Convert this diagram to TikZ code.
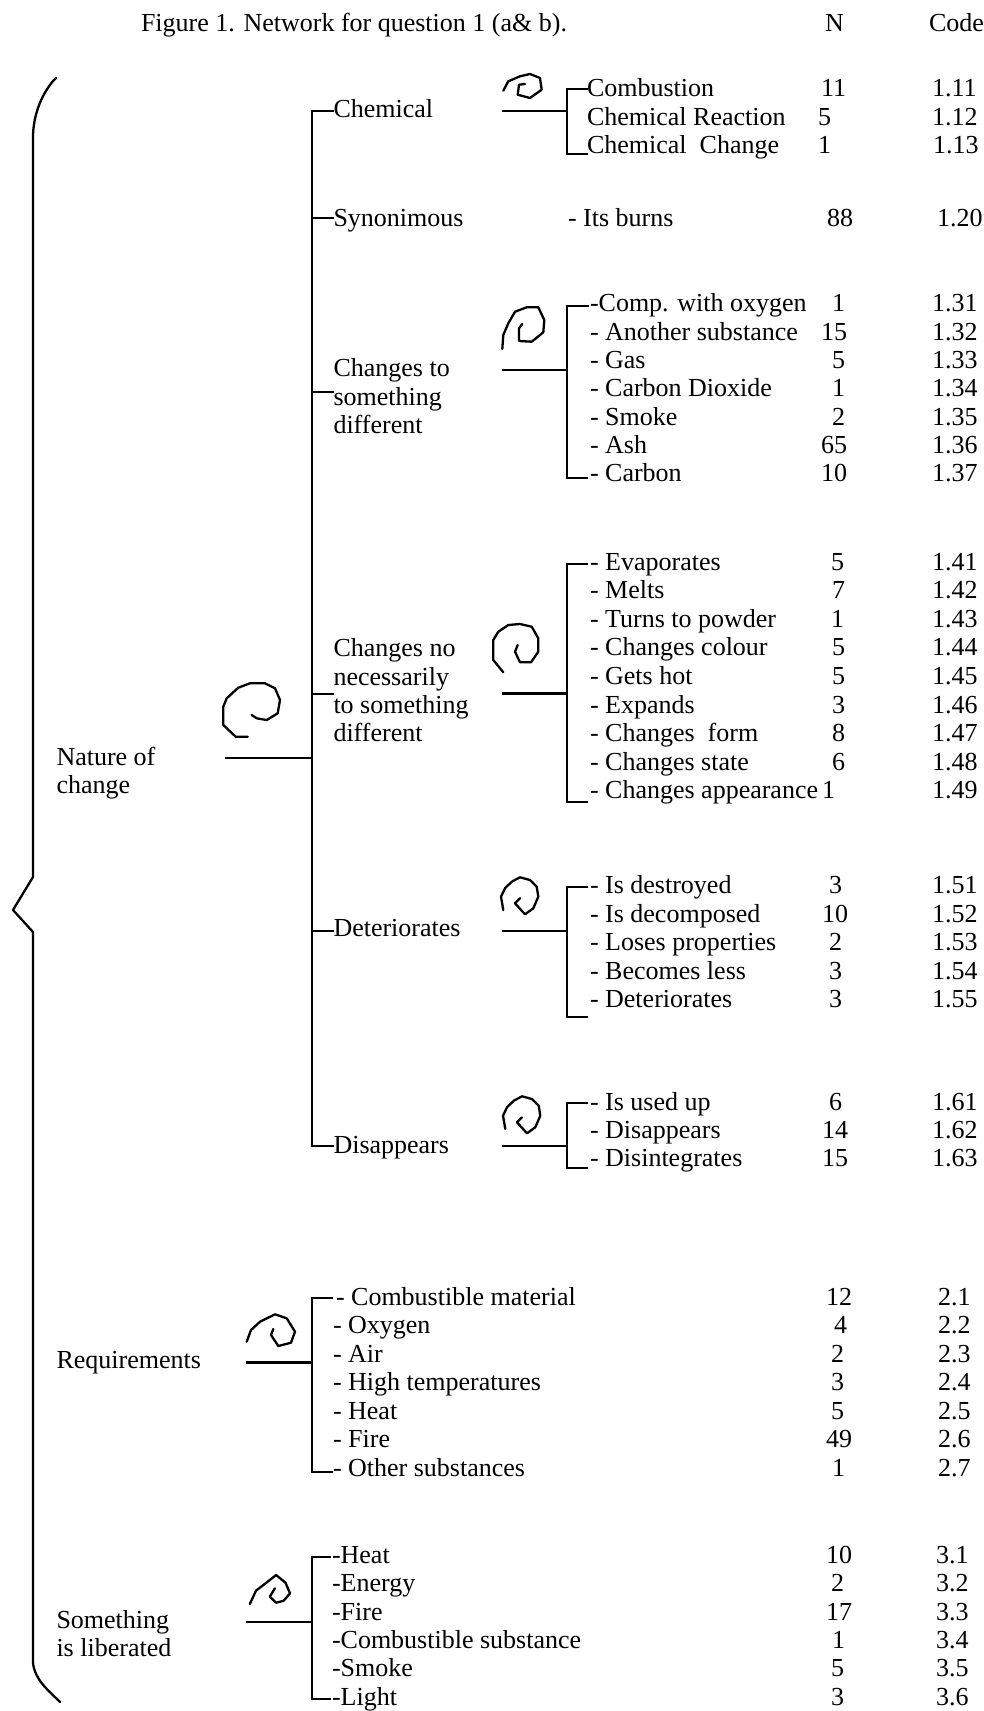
\documentclass[tikz,border=0pt]{standalone}
\usepackage{fontspec}
\setmainfont{Liberation Serif}
\newcommand\netfont{\fontsize{26}{30}\selectfont}
\newcommand\netrow[8]{%
  \node[txt] (#1) at (#3,#2) {#4};
  \node[txt] (#1n) at (#5,#2) {#6};
  \node[txt] (#1c) at (#7,#2) {#8};}
\begin{document}
\begin{tikzpicture}[x=1pt,y=-1pt,
  txt/.style={anchor=base west, inner sep=0pt, outer sep=0pt, font=\netfont},
  net/.style={line width=2.3pt, line join=miter},
  curl/.style={line width=2.3pt, line join=round, line cap=round}]
\useasboundingbox (0,0) rectangle (984,1711);

% ---------- title ----------
\node[txt] (title) at (141,31.5) {Figure 1. Network for question 1 (a\& b).};
\node[txt] (hN) at (825,31.5) {N};
\node[txt] (hCode) at (929,31.5) {Code};

% ---------- big brace ----------
\draw[curl] (56,78) -- (53,81) .. controls (44,92) and (34,110) .. (33,135) -- (33,877) -- (13,910) -- (33,932) -- (33,1663) .. controls (35,1680) and (48,1690) .. (60,1702);

% ---------- level 1 labels ----------
\node[txt] (nat1) at (56.5,765) {Nature of};
\node[txt] (nat2) at (56.5,793.3) {change};
\node[txt] (req) at (56.5,1368.3) {Requirements};
\node[txt] (lib1) at (56.5,1628.3) {Something};
\node[txt] (lib2) at (56.5,1656.7) {is liberated};

% ---------- level 2 labels ----------
\node[txt] (chem) at (333.5,117.3) {Chemical};
\node[txt] (syn) at (333.5,226) {Synonimous};
\node[txt] (cto1) at (333.5,376.7) {Changes to};
\node[txt] (cto2) at (333.5,405) {something};
\node[txt] (cto3) at (333.5,433.3) {different};
\node[txt] (cno1) at (333.5,656.7) {Changes no};
\node[txt] (cno2) at (333.5,685) {necessarily};
\node[txt] (cno3) at (333.5,713.3) {to something};
\node[txt] (cno4) at (333.5,741.7) {different};
\node[txt] (det) at (333.5,936.7) {Deteriorates};
\node[txt] (disap) at (333.5,1153.3) {Disappears};

% ---------- trunk of "Nature of change" ----------
\coordinate (trTop) at (312,111);
\coordinate (trBot) at (312,1146);
\coordinate (synJ) at (312,218);
\coordinate (ctoJ) at (312,392);
\coordinate (cnoJ) at (312,694);
\coordinate (detJ) at (312,931);
\coordinate (natL) at (225,758);
\draw[net] (trTop -| chem.west) -- (trTop) -- (trBot) -- (trBot -| disap.west);
\draw[net] (synJ) -- (synJ -| syn.west);
\draw[net] (ctoJ) -- (ctoJ -| cto2.west);
\draw[net] (cnoJ) -- (cnoJ -| cno2.west);
\draw[net] (detJ) -- (detJ -| det.west);
\draw[net] (natL) -- (natL -| trTop);

% ---------- Chemical ----------
\coordinate (chemL) at (502,111);
\coordinate (chemJ) at (567,111);
\coordinate (chemT) at (567,89);
\coordinate (chemB) at (567,154);
\draw[net] (chemL) -- (chemJ);
\draw[net] ([xshift=21pt]chemT) -- (chemT) -- (chemB) -- ([xshift=21pt]chemB);
\draw[curl] (503.3,90.7) -- (508.3,81.3) -- (520,76.3) -- (530,74) -- (540,78) -- (541.7,89.7) -- (530,98) -- (517.7,94.7) -- (519,84.7) -- (525,84);
\netrow{c1}{96.7}{587}{Combustion}{821}{11}{932}{1.11}
\netrow{c2}{125}{587}{Chemical Reaction}{818}{5}{932}{1.12}
\netrow{c3}{153.3}{587}{Chemical\ \ Change}{818}{1}{933}{1.13}

% ---------- Synonimous ----------
\netrow{s1}{226}{568}{- Its burns}{827}{88}{937}{1.20}

% ---------- Changes to something different ----------
\coordinate (ctoL) at (502,370);
\coordinate (ctoK) at (567,370);
\coordinate (ctoT) at (567,305.7);
\coordinate (ctoB) at (567,478);
\draw[net] (ctoL) -- (ctoK);
\draw[net] ([xshift=22pt]ctoT) -- (ctoT) -- (ctoB) -- ([xshift=21pt]ctoB);
\draw[curl] (502.3,349) -- (503.3,335) -- (508.3,323.3) -- (515,311.7) -- (526.7,307.3) -- (538.3,307.3) -- (544.3,320) -- (543.3,332.3) -- (531.7,341.7) -- (519,341) -- (519,328.3) -- (522.3,324);
\netrow{d1}{311.7}{590}{-Comp. with oxygen}{832}{1}{932}{1.31}
\netrow{d2}{340}{590}{- Another substance}{821}{15}{932}{1.32}
\netrow{d3}{368.3}{590}{- Gas}{832}{5}{932}{1.33}
\netrow{d4}{396.7}{590}{- Carbon Dioxide}{832}{1}{932}{1.34}
\netrow{d5}{425}{590}{- Smoke}{832}{2}{932}{1.35}
\netrow{d6}{453.3}{590}{- Ash}{821}{65}{932}{1.36}
\netrow{d7}{481.7}{590}{- Carbon}{821}{10}{932}{1.37}

% ---------- Changes no necessarily ----------
\coordinate (cnoL) at (502,693.5);
\coordinate (cnoK) at (567,693.5);
\coordinate (cnoT) at (567,564);
\coordinate (cnoB) at (567,802);
\draw[net] (cnoL) -- (cnoK);
\draw[net] ([xshift=21pt]cnoT) -- (cnoT) -- (cnoB) -- ([xshift=21pt]cnoB);
\draw[curl] (503.3,672.3) -- (493.3,660) -- (493.3,640) -- (498.3,631.7) -- (508.3,625) -- (520,624) -- (531.7,626.7) -- (538.3,638.3) -- (538.3,651.7) -- (531,662.3) -- (520,662.3) -- (515,651.7) -- (517.7,645);
\draw[curl] (247.7,736.7) -- (235.7,736.7) -- (223.3,725) -- (223.3,706.7) -- (226.7,698.3) -- (238.3,687.7) -- (250,683.3) -- (265,683.3) -- (275,688.3) -- (280,700) -- (277.7,713.3) -- (266.7,720) -- (256.7,718.3) -- (251.7,715);
\netrow{e1}{570}{590}{- Evaporates}{831}{5}{932}{1.41}
\netrow{e2}{598.6}{590}{- Melts}{832}{7}{932}{1.42}
\netrow{e3}{627.2}{590}{- Turns to powder}{831}{1}{932}{1.43}
\netrow{e4}{655.8}{590}{- Changes colour}{832}{5}{932}{1.44}
\netrow{e5}{684.4}{590}{- Gets hot}{832}{5}{932}{1.45}
\netrow{e6}{713}{590}{- Expands}{832}{3}{932}{1.46}
\netrow{e7}{741.6}{590}{- Changes\ \ form}{832}{8}{932}{1.47}
\netrow{e8}{770.2}{590}{- Changes state}{832}{6}{932}{1.48}
\netrow{e9}{798.8}{590}{- Changes appearance}{822}{1}{932}{1.49}

% ---------- Deteriorates ----------
\coordinate (detL) at (502,931);
\coordinate (detK) at (567,931);
\coordinate (detT) at (567,887.3);
\coordinate (detB) at (567,1017);
\draw[net] (detL) -- (detK);
\draw[net] ([xshift=21pt]detT) -- (detT) -- (detB) -- ([xshift=21pt]detB);
\draw[curl] (503.3,910) -- (501,896.7) -- (505,888.3) -- (511.7,881.7) -- (520,877.3) -- (530,880) -- (536.7,886.7) -- (538.3,896.7) -- (533.3,908.3) -- (525,914.3) -- (515,903.3) -- (520,898.3);
\netrow{f1}{893.3}{590}{- Is destroyed}{829}{3}{932}{1.51}
\netrow{f2}{922}{590}{- Is decomposed}{822}{10}{932}{1.52}
\netrow{f3}{950.5}{590}{- Loses properties}{829}{2}{932}{1.53}
\netrow{f4}{979}{590}{- Becomes less}{829}{3}{932}{1.54}
\netrow{f5}{1007.7}{590}{- Deteriorates}{829}{3}{932}{1.55}

% ---------- Disappears ----------
\coordinate (disL) at (502,1146);
\coordinate (disK) at (567,1146);
\coordinate (disT) at (567,1103);
\coordinate (disB) at (567,1168);
\draw[net] (disL) -- (disK);
\draw[net] ([xshift=21pt]disT) -- (disT) -- (disB) -- ([xshift=21pt]disB);
\begin{scope}[shift={(2,219)}]
\draw[curl] (503.3,910) -- (501,896.7) -- (505,888.3) -- (511.7,881.7) -- (520,877.3) -- (530,880) -- (536.7,886.7) -- (538.3,896.7) -- (533.3,908.3) -- (525,914.3) -- (515,903.3) -- (520,898.3);
\end{scope}
\netrow{g1}{1110}{590}{- Is used up}{829}{6}{932}{1.61}
\netrow{g2}{1138.3}{590}{- Disappears}{822}{14}{932}{1.62}
\netrow{g3}{1166.7}{590}{- Disintegrates}{822}{15}{932}{1.63}

% ---------- Requirements ----------
\coordinate (reqL) at (246,1362.5);
\coordinate (reqT) at (312,1298);
\coordinate (reqB) at (312,1472);
\draw[net] (reqL) -- (reqL -| reqT);
\draw[net] ([xshift=21pt]reqT) -- (reqT) -- (reqB) -- ([xshift=21pt]reqB);
\draw[curl] (246.7,1341.7) -- (251,1330) -- (260,1321.7) -- (275,1314.3) -- (286.7,1318.3) -- (295,1331.7) -- (291,1342.7) -- (278.3,1346) -- (271,1335) -- (273.3,1329);
\netrow{h1}{1305}{336}{- Combustible material}{826}{12}{938}{2.1}
\netrow{h2}{1333.5}{333}{- Oxygen}{834}{4}{938}{2.2}
\netrow{h3}{1362}{333}{- Air}{831}{2}{938}{2.3}
\netrow{h4}{1390.5}{333}{- High temperatures}{831}{3}{938}{2.4}
\netrow{h5}{1419}{333}{- Heat}{831}{5}{938}{2.5}
\netrow{h6}{1447.5}{333}{- Fire}{826}{49}{938}{2.6}
\netrow{h7}{1476}{333}{- Other substances}{832}{1}{938}{2.7}

% ---------- Something is liberated ----------
\coordinate (libL) at (246,1622);
\coordinate (libT) at (312,1557);
\coordinate (libB) at (312,1699);
\draw[net] (libL) -- (libL -| libT);
\draw[net] ([xshift=19pt]libT) -- (libT) -- (libB) -- ([xshift=19pt]libB);
\draw[curl] (249.8,1604) -- (256,1590.7) -- (269.8,1580) -- (276.1,1575) -- (285.5,1582.7) -- (290,1593.3) -- (283.7,1600.7) -- (276.1,1602.7) -- (269.8,1596.7) -- (274.9,1588.3);
\netrow{i1}{1563.3}{332}{-Heat}{826}{10}{936}{3.1}
\netrow{i2}{1591.7}{332}{-Energy}{831}{2}{936}{3.2}
\netrow{i3}{1620}{332}{-Fire}{826}{17}{936}{3.3}
\netrow{i4}{1648.3}{332}{-Combustible substance}{832}{1}{936}{3.4}
\netrow{i5}{1676.7}{332}{-Smoke}{831}{5}{936}{3.5}
\netrow{i6}{1705}{332}{-Light}{831}{3}{936}{3.6}
\end{tikzpicture}
\end{document}
